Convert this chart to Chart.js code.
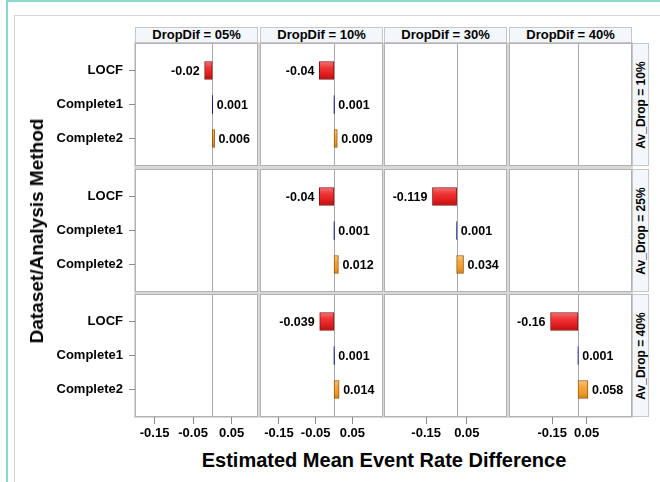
<!DOCTYPE html>
<html>
<head>
<meta charset="utf-8">
<script src="https://cdn.jsdelivr.net/npm/chart.js@4/dist/chart.umd.min.js"></script>
<style>
  body { margin: 0; width: 660px; height: 482px; overflow: hidden; background: #fff; font-family: Arial, "Liberation Sans", sans-serif; }
  .abs { position: absolute; }
  .hdr { position: absolute; box-sizing: border-box; border: 1px solid #c6c6c6; background: #f3f6fb; font-weight: bold; font-size: 13px; line-height: 14px; text-align: center; color: #000; }
  .strip { position: absolute; box-sizing: border-box; border: 1px solid #c6c6c6; background: #f3f6fb; }
  .strip span { position: absolute; left: 50%; top: 50%; transform: translate(-50%, -50%) rotate(-90deg); white-space: nowrap; font-weight: bold; font-size: 12px; }
  canvas { position: absolute; }
</style>
</head>
<body>
<div class="abs" style="left:6px;top:0;width:660px;height:490px;border-left:2px solid #86d9cb;border-top:2px solid #86d9cb;"></div>
<div class="abs" style="left:14px;top:15px;width:660px;height:480px;border-left:1px solid #d6d6d6;border-top:1px solid #d6d6d6;"></div>
<div class="abs" style="left:134px;top:42px;width:499px;height:376px;background:#d8d8d8;"></div>
<div id="wrap"></div>
<div class="abs" style="left:37px;top:231px;transform:translate(-50%,-50%) rotate(-90deg);white-space:nowrap;font-weight:bold;font-size:19px;">Dataset/Analysis Method</div>
<div class="abs" style="left:134px;top:448px;width:500px;text-align:center;font-weight:bold;font-size:20px;line-height:24px;">Estimated Mean Event Rate Difference</div>

<script>
// categories and panel labels
const methods = ["LOCF", "Complete1", "Complete2"];
const dropDif = ["05%", "10%", "30%", "40%"];
const avDrop = ["10%", "25%", "40%"];

// estimated differences, one array per Av_Drop row, one entry per DropDif column (null = empty panel)
const drop10 = [[-0.02, 0.001, 0.006], [-0.04, 0.001, 0.009], null, null];
const drop25 = [null, [-0.04, 0.001, 0.012], [-0.119, 0.001, 0.034], null];
const drop40 = [null, [-0.039, 0.001, 0.014], null, [-0.16, 0.001, 0.058]];
const rows = [drop10, drop25, drop40];

// x axis per column
const xMin = [-0.2008, -0.2018, -0.3576, -0.4019];
const xMax = [0.1187, 0.1336, 0.248, 0.3145];
const xTicks = [[-0.15, -0.05, 0.05], [-0.15, -0.05, 0.05], [-0.15, 0.05], [-0.15, 0.05]];

// panel geometry
const colLeft = [135, 260, 384, 509];
const rowTop = [43, 169, 294];
const W = 123, H = 123, LBL = 90, TCK = 30;

const fills = [
  ["#f47474", "#ee3434", "#e01e1e", "#b31111", "#8e1010"],
  ["#3a3ab0", "#1a1a90", "#14147a", "#101070", "#0c0c60"],
  ["#fbc77a", "#f4a63c", "#ee9a2c", "#d07c18", "#9a5a10"]
];

Chart.defaults.font.family = 'Arial, "Liberation Sans", sans-serif';
Chart.defaults.color = "#000";

const wrap = document.getElementById("wrap");

// headers
dropDif.forEach((d, c) => {
  const h = document.createElement("div");
  h.className = "hdr";
  h.style.left = colLeft[c] + "px";
  h.style.top = "27px";
  h.style.width = W + "px";
  h.style.height = "16px";
  h.textContent = "DropDif = " + d;
  wrap.appendChild(h);
});
avDrop.forEach((a, r) => {
  const s = document.createElement("div");
  s.className = "strip";
  s.style.left = "632px";
  s.style.top = rowTop[r] + "px";
  s.style.width = "17px";
  s.style.height = H + "px";
  s.innerHTML = "<span>Av_Drop = " + a + "</span>";
  wrap.appendChild(s);
});

const panelPlugin = {
  id: "panel",
  beforeDraw(chart) {
    const a = chart.chartArea, ctx = chart.ctx;
    ctx.save();
    ctx.fillStyle = "#fff";
    ctx.fillRect(a.left, a.top, a.width, a.height);
    ctx.restore();
  },
  beforeDatasetsDraw(chart) {
    const a = chart.chartArea, ctx = chart.ctx;
    const x0 = Math.round(chart.scales.x.getPixelForValue(0)) + 0.5;
    ctx.save();
    ctx.strokeStyle = "#a9a9a9";
    ctx.lineWidth = 1;
    ctx.beginPath();
    ctx.moveTo(x0, a.top);
    ctx.lineTo(x0, a.bottom);
    ctx.stroke();
    ctx.restore();
  },
  afterDatasetsDraw(chart) {
    const a = chart.chartArea, ctx = chart.ctx;
    ctx.save();
    // value labels
    ctx.font = "bold 12.5px Arial, 'Liberation Sans', sans-serif";
    ctx.fillStyle = "#000";
    ctx.textBaseline = "middle";
    const meta = chart.getDatasetMeta(0);
    const data = chart.data.datasets[0].data;
    meta.data.forEach((bar, i) => {
      const v = data[i].x;
      if (v < 0) {
        ctx.textAlign = "right";
        ctx.fillText(String(v), bar.x - 5, bar.y + 1);
      } else {
        ctx.textAlign = "left";
        ctx.fillText(String(v), bar.x + 4, bar.y + 1);
      }
    });
    ctx.strokeStyle = "#b2b2b2";
    ctx.lineWidth = 1;
    ctx.strokeRect(a.left + 0.5, a.top + 0.5, a.width - 1, a.height - 1);
    ctx.restore();
  }
};

rows.forEach((row, r) => {
  row.forEach((vals, c) => {
    const showY = c === 0;
    const showX = r === rows.length - 1;
    const cv = document.createElement("canvas");
    const cw = W + (showY ? LBL : 0);
    const ch = H + (showX ? TCK : 0);
    cv.width = cw;
    cv.height = ch;
    cv.style.left = (colLeft[c] - (showY ? LBL : 0)) + "px";
    cv.style.top = rowTop[r] + "px";
    wrap.appendChild(cv);

    const pts = vals ? vals.map((v, i) => ({ x: v, y: i })) : [];

    new Chart(cv.getContext("2d"), {
      type: "bar",
      data: {
        datasets: [{
          data: pts,
          barThickness: 18,
          borderWidth: (ctx) => (ctx.raw && ctx.raw.y === 1) ? 0 : 1,
          borderSkipped: false,
          borderColor: (ctx) => ctx.raw ? fills[ctx.raw.y][4] : "#000",
          backgroundColor: (ctx) => {
            const chart = ctx.chart;
            if (!chart.chartArea || !ctx.raw) return "#ccc";
            const f = fills[ctx.raw.y];
            const yc = chart.scales.y.getPixelForValue(ctx.raw.y);
            const g = chart.ctx.createLinearGradient(0, yc - 9, 0, yc + 9);
            g.addColorStop(0, f[0]);
            g.addColorStop(0.35, f[1]);
            g.addColorStop(0.7, f[2]);
            g.addColorStop(1, f[3]);
            return g;
          }
        }]
      },
      options: {
        indexAxis: "y",
        responsive: false,
        animation: false,
        devicePixelRatio: 1,
        layout: { padding: 0 },
        plugins: { legend: { display: false }, tooltip: { enabled: false } },
        scales: {
          x: {
            type: "linear",
            min: xMin[c],
            max: xMax[c],
            display: showX,
            border: { display: false },
            grid: { drawOnChartArea: false, drawTicks: true, tickLength: 7, color: "#8c8c8c" },
            ticks: {
              autoSkip: false,
              maxRotation: 0,
              padding: 2,
              font: { size: 13, weight: "bold" },
              callback: (v) => v.toFixed(2)
            },
            afterBuildTicks: (s) => { s.ticks = xTicks[c].map((v) => ({ value: v })); },
            afterFit: (s) => {
              s.height = showX ? TCK : 0;
              s.paddingLeft = 0;
              s.paddingRight = 0;
            }
          },
          y: {
            type: "linear",
            reverse: true,
            offset: false,
            min: -0.809,
            max: 2.809,
            display: showY,
            border: { display: false },
            grid: { offset: false, drawOnChartArea: false, drawTicks: true, tickLength: 6, color: "#8c8c8c" },
            ticks: {
              autoSkip: false,
              padding: 6,
              font: { size: 13, weight: "bold" },
              callback: (v) => methods[v]
            },
            afterBuildTicks: (s) => { s.ticks = methods.map((m, i) => ({ value: i })); },
            afterFit: (s) => {
              s.width = showY ? LBL : 0;
              s.paddingTop = 0;
              s.paddingBottom = 0;
            }
          }
        }
      },
      plugins: [panelPlugin]
    });
  });
});
</script>
</body>
</html>
